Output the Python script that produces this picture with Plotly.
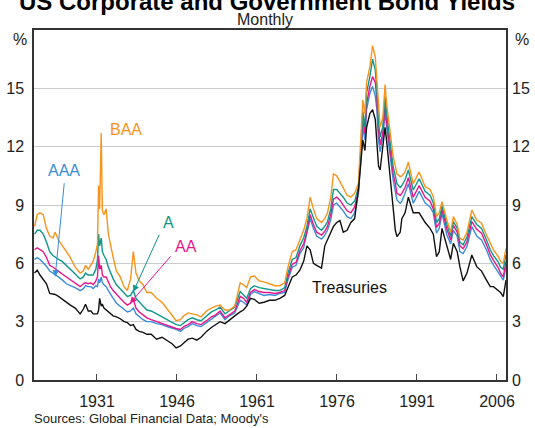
import plotly.graph_objects as go

# chart-time positions (decimal years)
dates = [
    1919.29, 1919.80, 1920.31, 1920.92, 1921.53, 1922.14, 1922.75, 1923.16, 1923.77, 1924.48,
    1925.29, 1926.01, 1926.92, 1927.84, 1928.45, 1928.85, 1929.36, 1929.87, 1930.28, 1930.79,
    1931.09, 1931.30, 1931.50, 1931.80, 1932.01, 1932.31, 1932.72, 1933.13, 1933.53, 1934.04,
    1934.65, 1935.36, 1936.08, 1936.69, 1937.30, 1937.81, 1938.31, 1938.92, 1939.64, 1940.35,
    1941.16, 1942.18, 1943.20, 1944.11, 1945.13, 1945.84, 1946.66, 1947.27, 1948.08, 1948.89,
    1949.71, 1950.52, 1951.54, 1952.45, 1953.27, 1954.08, 1955.00, 1955.81, 1956.83, 1957.85,
    1958.46, 1959.07, 1959.78, 1960.49, 1961.41, 1962.32, 1963.34, 1964.36, 1965.27, 1966.19,
    1966.80, 1967.61, 1968.32, 1969.04, 1969.75, 1970.36, 1970.97, 1971.58, 1972.19, 1973.10,
    1973.71, 1974.22, 1974.83, 1975.34, 1975.95, 1976.56, 1977.17, 1977.89, 1978.60, 1979.31,
    1980.02, 1980.43, 1980.84, 1981.24, 1981.55, 1982.16, 1982.67, 1983.18, 1983.48, 1983.79,
    1984.09, 1984.60, 1985.01, 1985.31, 1985.92, 1986.53, 1986.94, 1987.24, 1987.85, 1988.16,
    1988.77, 1989.38, 1990.30, 1991.41, 1992.53, 1993.45, 1994.06, 1994.67, 1995.18, 1995.69,
    1996.60, 1997.31, 1997.82, 1998.54, 1999.04, 1999.65, 2000.37, 2001.28, 2002.20, 2003.11,
    2004.03, 2004.74, 2005.35, 2006.27, 2006.67, 2007.18, 2007.69,
]

baa = [
    7.9, 8.5, 8.6, 8.5, 7.8, 7.4, 7.3, 7.6, 7.2, 6.9,
    6.6, 6.3, 5.8, 5.5, 5.6, 5.9, 5.7, 5.9, 6.1, 6.6,
    7.0, 10.0, 8.8, 12.7, 8.7, 8.5, 8.8, 7.5, 6.9, 6.3,
    5.6, 5.3, 4.8, 4.6, 5.2, 6.6, 5.5, 5.1, 4.9, 4.5,
    4.5, 4.2, 4.0, 3.65, 3.3, 3.05, 3.1, 3.3, 3.45, 3.4,
    3.35, 3.25, 3.55, 3.7, 3.8, 3.85, 3.6, 3.6, 3.8, 5.0,
    4.9, 4.75, 5.3, 5.35, 5.1, 5.05, 4.95, 4.85, 4.85, 5.0,
    5.8, 6.6, 6.7, 7.2, 7.7, 8.3, 9.4, 8.8, 8.3, 8.1,
    8.3, 8.6, 9.4, 10.6, 10.5, 10.2, 9.9, 9.5, 9.4, 9.6,
    10.1, 12.0, 14.4, 13.7, 15.3, 16.1, 17.2, 16.6, 15.4, 13.7,
    13.0, 13.5, 15.2, 14.2, 12.9, 11.5, 11.0, 10.6, 10.46, 10.5,
    10.7, 11.2, 10.1, 10.7, 9.94, 9.8, 9.43, 8.4, 8.6, 9.17,
    8.23, 7.6, 8.4, 8.0, 7.29, 7.2, 7.6, 8.74, 8.23, 8.06,
    7.46, 7.0, 6.69, 6.34, 6.1, 6.0, 6.77,
]

a_rated = [
    7.5, 7.7, 7.7, 7.5, 7.1, 6.6, 6.4, 6.3, 6.2, 6.1,
    5.9, 5.7, 5.45, 5.2, 5.3, 5.5, 5.4, 5.4, 5.4, 5.7,
    6.2, 7.5, 6.9, 7.3, 6.6, 6.4, 6.2, 5.8, 5.5, 5.2,
    4.9, 4.7, 4.5, 4.3, 4.35, 4.6, 4.2, 4.0, 3.8, 3.6,
    3.55, 3.4, 3.25, 3.1, 2.95, 2.85, 2.8, 2.95, 3.1, 3.2,
    3.1, 3.05, 3.3, 3.5, 3.6, 3.75, 3.4, 3.55, 3.75, 4.55,
    4.4, 4.2, 4.7, 4.85, 4.75, 4.7, 4.65, 4.6, 4.6, 4.75,
    5.5, 6.2, 6.3, 6.9, 7.3, 7.9, 8.8, 8.3, 7.9, 7.7,
    7.9, 8.15, 8.8, 9.8, 9.8, 9.6, 9.4, 9.1, 9.0, 9.2,
    9.9, 11.6, 13.8, 13.0, 14.75, 15.6, 16.5, 15.95, 14.9, 13.2,
    12.5, 13.03, 14.57, 13.7, 12.35, 10.97, 10.5, 10.1, 9.9, 10.0,
    10.3, 10.8, 9.77, 10.35, 9.7, 9.5, 9.1, 8.1, 8.3, 8.95,
    8.0, 7.4, 8.15, 7.8, 7.1, 6.95, 7.35, 8.4, 8.0, 7.8,
    7.2, 6.7, 6.4, 6.05, 5.8, 5.7, 6.45,
]

aa = [
    6.7, 6.8, 6.7, 6.6, 6.3, 5.9, 5.8, 5.7, 5.6, 5.45,
    5.3, 5.15, 5.0, 4.8, 4.95, 5.0, 4.95, 5.0, 4.9, 5.1,
    5.3, 6.4, 5.7, 5.9, 5.4, 5.3, 5.3, 5.0, 4.8, 4.6,
    4.4, 4.2, 4.0, 3.85, 3.95, 4.15, 3.7, 3.5, 3.35, 3.2,
    3.1, 3.0, 2.9, 2.85, 2.75, 2.65, 2.6, 2.75, 2.85, 3.0,
    2.9, 2.85, 3.05, 3.25, 3.35, 3.55, 3.2, 3.35, 3.55, 4.3,
    4.2, 4.0, 4.5, 4.65, 4.55, 4.5, 4.5, 4.45, 4.5, 4.6,
    5.3, 5.95, 6.05, 6.65, 7.0, 7.65, 8.5, 8.0, 7.6, 7.45,
    7.65, 7.9, 8.5, 9.3, 9.4, 9.25, 9.0, 8.7, 8.6, 8.9,
    9.7, 11.3, 13.4, 12.7, 14.2, 15.1, 15.6, 15.3, 14.4, 12.8,
    12.1, 12.7, 14.1, 13.3, 11.9, 10.6, 10.1, 9.6, 9.5, 9.6,
    9.9, 10.4, 9.4, 10.0, 9.4, 9.2, 8.8, 7.85, 8.05, 8.75,
    7.75, 7.2, 7.95, 7.6, 6.9, 6.75, 7.1, 8.15, 7.75, 7.55,
    6.95, 6.45, 6.15, 5.75, 5.5, 5.3, 6.1,
]

aaa = [
    6.2, 6.3, 6.2, 6.05, 5.85, 5.6, 5.5, 5.4, 5.3, 5.15,
    4.95, 4.85, 4.75, 4.6, 4.7, 4.85, 4.8, 4.8, 4.7, 4.85,
    4.8, 5.2, 5.0, 5.3, 5.0, 4.9, 4.8, 4.6, 4.4, 4.2,
    3.95, 3.8, 3.6, 3.5, 3.55, 3.7, 3.4, 3.25, 3.1, 3.0,
    3.0, 2.9, 2.85, 2.75, 2.68, 2.6, 2.5, 2.65, 2.75, 2.9,
    2.8, 2.75, 2.95, 3.15, 3.3, 3.45, 3.1, 3.3, 3.45, 4.1,
    4.0, 3.85, 4.4, 4.55, 4.45, 4.35, 4.4, 4.35, 4.45, 4.5,
    5.15, 5.8, 5.9, 6.5, 6.8, 7.5, 8.3, 7.8, 7.4, 7.25,
    7.45, 7.7, 8.25, 9.0, 9.1, 8.9, 8.7, 8.4, 8.3, 8.6,
    9.6, 11.1, 13.0, 12.35, 13.9, 14.75, 15.1, 14.6, 13.9, 12.35,
    11.74, 12.5, 13.8, 13.0, 11.5, 10.29, 9.7, 9.26, 9.09, 9.2,
    9.6, 10.1, 9.09, 9.7, 9.1, 8.9, 8.6, 7.55, 7.8, 8.57,
    7.46, 7.0, 7.7, 7.4, 6.6, 6.5, 6.86, 7.89, 7.4, 7.2,
    6.69, 6.2, 5.91, 5.49, 5.3, 5.14, 5.83,
]

treasuries = [
    5.5, 5.65, 5.4, 5.2, 4.95, 4.45, 4.4, 4.4, 4.3, 4.15,
    4.0, 3.85, 3.7, 3.4, 3.65, 3.9, 3.55, 3.55, 3.4, 3.4,
    3.4, 3.6, 4.2, 3.8, 3.9, 3.7, 3.6, 3.5, 3.4, 3.3,
    3.25, 3.15, 3.0, 2.95, 2.8, 2.85, 2.6, 2.5, 2.45, 2.35,
    2.35, 2.1, 2.2, 2.05, 1.85, 1.65, 1.75, 1.9, 2.1, 2.15,
    2.05, 2.2, 2.5, 2.7, 2.85, 3.0, 2.9, 3.1, 3.3, 3.5,
    3.6, 3.8, 4.2, 4.15, 3.95, 4.0, 4.1, 4.1, 4.2, 4.35,
    4.8, 5.3, 5.4, 5.65, 6.1, 6.9, 6.7, 6.0, 5.9, 5.75,
    6.9, 7.2, 7.6, 7.9, 8.1, 8.2, 7.6, 7.7, 8.1, 8.3,
    9.8, 11.0, 12.35, 11.8, 13.0, 13.7, 13.9, 13.4, 12.35, 11.0,
    10.8, 12.0, 13.0, 12.3, 10.63, 8.91, 7.7, 7.37, 7.6, 8.3,
    8.6, 9.4, 8.6, 8.6, 8.1, 7.8, 7.5, 6.34, 6.6, 7.8,
    6.86, 6.2, 7.03, 6.6, 5.83, 5.1, 5.5, 6.43, 5.83, 5.6,
    5.14, 4.8, 4.8, 4.6, 4.5, 4.29, 5.14,
]

x_ticks = [1931, 1946, 1961, 1976, 1991, 2006]
y_ticks = [0, 3, 6, 9, 12, 15]

FONT = "Arial, Liberation Sans, Helvetica, sans-serif"
C_BAA = "#F7941D"
C_A = "#0E978A"
C_AA = "#E8168C"
C_AAA = "#3A8DD6"
C_T = "#111111"

fig = go.Figure()
for vals, col, name in [(aaa, C_AAA, "AAA"), (aa, C_AA, "AA"), (a_rated, C_A, "A"),
                        (baa, C_BAA, "BAA"), (treasuries, C_T, "Treasuries")]:
    fig.add_trace(go.Scatter(x=dates, y=vals, mode="lines", name=name,
                             line=dict(color=col, width=1.4), showlegend=False))
# invisible trace for the right axis
fig.add_trace(go.Scatter(x=[dates[0]], y=[0], yaxis="y2", mode="lines",
                         line=dict(width=0), showlegend=False, hoverinfo="skip"))

fig.update_layout(
    width=535, height=428,
    margin=dict(l=34, r=29, t=30, b=48, autoexpand=False),
    paper_bgcolor="white", plot_bgcolor="white",
    font=dict(family=FONT, size=16, color="#222"),
    xaxis=dict(range=[1919.19, 2007.69], tickvals=x_ticks, ticks="inside", ticklen=6,
               tickcolor="#444", tickwidth=1, showgrid=False, zeroline=False,
               showline=True, linecolor="#333", linewidth=1.5, mirror=True,
               tickfont=dict(size=16), ticklabelstandoff=6, automargin=False),
    yaxis=dict(range=[0, 18], tickvals=y_ticks, ticks="", showgrid=True,
               gridcolor="#c9cbcd", gridwidth=1.3, zeroline=False,
               showline=True, linecolor="#333", linewidth=1.5, mirror=True,
               tickfont=dict(size=16), ticklabelstandoff=5, automargin=False),
    yaxis2=dict(range=[0, 18], tickvals=y_ticks, overlaying="y", side="right",
                showgrid=False, zeroline=False, showline=False, ticks="",
                tickfont=dict(size=16), ticklabelstandoff=5, automargin=False),
)

ann = []
ann.append(dict(text="<b>US Corporate and Government Bond Yields</b>", xref="paper", yref="paper",
                x=0.4947, y=1.0826, xanchor="center", yanchor="middle", showarrow=False,
                font=dict(size=24, color="#000")))
ann.append(dict(text="Monthly", xref="paper", yref="paper", x=0.49, y=1.031,
                xanchor="center", yanchor="middle", showarrow=False, font=dict(size=16)))
ann.append(dict(text="%", xref="paper", yref="paper", x=-0.0297, y=0.973,
                xanchor="center", yanchor="middle", showarrow=False, font=dict(size=16)))
ann.append(dict(text="%", xref="paper", yref="paper", x=1.0148, y=0.973,
                xanchor="left", yanchor="middle", showarrow=False, font=dict(size=16)))
ann.append(dict(text="Sources: Global Financial Data; Moody's", xref="paper", yref="paper",
                x=-0.004, y=-0.1086, xanchor="left", yanchor="middle", showarrow=False,
                font=dict(size=13)))
# series labels
ann.append(dict(text="BAA", x=1933.13, y=12.89, xanchor="left", yanchor="middle",
                showarrow=False, font=dict(size=16, color=C_BAA)))
ann.append(dict(text="AAA", x=1921.43, y=10.78, xanchor="left", yanchor="middle",
                showarrow=False, font=dict(size=16, color=C_AAA)))
ann.append(dict(text="A", x=1942.94, y=8.09, xanchor="left", yanchor="middle",
                showarrow=False, font=dict(size=16, color=C_A)))
ann.append(dict(text="AA", x=1945.20, y=6.89, xanchor="left", yanchor="middle",
                showarrow=False, font=dict(size=16, color=C_AA)))
ann.append(dict(text="Treasuries", x=1970.97, y=4.75, xanchor="left", yanchor="middle",
                showarrow=False, font=dict(size=16, color="#111")))
# pointer arrows
for tip, tail, col in [((1923.16, 5.31), (1924.89, 10.2), C_AAA),
                       ((1937.81, 4.54), (1942.79, 7.55), C_A),
                       ((1937.20, 3.95), (1945.03, 6.43), C_AA)]:
    ann.append(dict(text="", x=tip[0], y=tip[1], ax=tail[0], ay=tail[1],
                    axref="x", ayref="y", showarrow=True, arrowhead=2,
                    arrowsize=1.3, arrowwidth=1, arrowcolor=col))
fig.update_layout(annotations=ann)

fig.write_html("out.html", config={"displayModeBar": False},
               post_script="document.body.style.margin='0';document.body.style.overflow='hidden';")
